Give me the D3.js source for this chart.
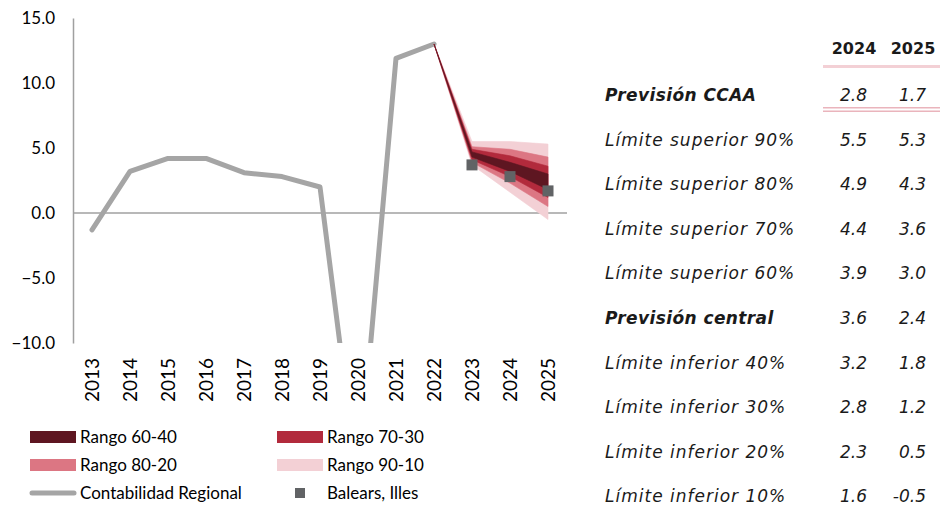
<!DOCTYPE html>
<html lang="es">
<head>
<meta charset="UTF-8">
<title>Previsión Balears</title>
<script src="https://d3js.org/d3.v7.min.js"></script>
<style>
  body { margin: 0; background: #fff; }
  svg { display: block; }
  .lbl { font-family: Lato, "Open Sans", sans-serif; fill: #000; }
  .tbl { font-family: "DejaVu Sans", sans-serif; fill: #1a1a1a; }
</style>
</head>
<body>
<svg id="chart" width="940" height="508"></svg>
<script>
  // years on the x axis
  var years = ["2013", "2014", "2015", "2016", "2017", "2018", "2019", "2020", "2021", "2022", "2023", "2024", "2025"];

  // Contabilidad Regional (2013-2022)
  var regionalYears = ["2013", "2014", "2015", "2016", "2017", "2018", "2019", "2020", "2021", "2022"];
  var regional = [-1.3, 3.2, 4.2, 4.2, 3.1, 2.8, 2.0, -21.0, 11.9, 13.0];

  // Balears, Illes points
  var balearsYears = ["2023", "2024", "2025"];
  var balears = [3.7, 2.8, 1.7];

  // fan chart bounds
  var fanYears = ["2022", "2023", "2024", "2025"];
  var upper90 = [13.0, 5.5, 5.5, 5.3];
  var upper80 = [13.0, 5.1, 4.9, 4.3];
  var upper70 = [13.0, 4.9, 4.4, 3.6];
  var upper60 = [13.0, 4.7, 3.9, 3.0];
  var lower40 = [13.0, 4.3, 3.2, 1.8];
  var lower30 = [13.0, 4.1, 2.8, 1.2];
  var lower20 = [13.0, 3.9, 2.3, 0.5];
  var lower10 = [13.0, 3.7, 1.6, -0.5];

  var yTicks = [-10, -5, 0, 5, 10, 15];

  // table on the right
  var tableHead = ["2024", "2025"];
  var tableLabels = ["Previsión CCAA", "Límite superior 90%", "Límite superior 80%", "Límite superior 70%",
    "Límite superior 60%", "Previsión central", "Límite inferior 40%", "Límite inferior 30%",
    "Límite inferior 20%", "Límite inferior 10%"];
  var table2024 = ["2.8", "5.5", "4.9", "4.4", "3.9", "3.6", "3.2", "2.8", "2.3", "1.6"];
  var table2025 = ["1.7", "5.3", "4.3", "3.6", "3.0", "2.4", "1.8", "1.2", "0.5", "-0.5"];
  var tableBold = [true, false, false, false, false, true, false, false, false, false];

  var svg = d3.select("#chart");

  var x = d3.scalePoint().domain(years).range([92, 548]);
  var y = d3.scaleLinear().domain([-10, 15]).range([343, 18]);

  var plotLeft = 73, plotRight = 567;

  svg.append("defs").append("clipPath").attr("id", "plotclip")
    .append("rect").attr("x", plotLeft).attr("y", y(15)).attr("width", plotRight - plotLeft).attr("height", y(-10) - y(15));

  // y axis
  var yAxis = svg.append("g")
    .attr("transform", "translate(" + plotLeft + ",0)")
    .call(d3.axisLeft(y).tickValues(yTicks).tickSize(0).tickPadding(18).tickFormat(d3.format(".1f")));
  yAxis.select(".domain").attr("stroke", "#a0a0a0").attr("stroke-width", 1.5);
  yAxis.selectAll("text").attr("class", "lbl").style("font-size", "17px").attr("fill", "#000");

  // zero line
  svg.append("line")
    .attr("x1", plotLeft).attr("x2", plotRight)
    .attr("y1", y(0)).attr("y2", y(0))
    .attr("stroke", "#a0a0a0").attr("stroke-width", 1.5);

  // x labels (rotated)
  svg.append("g").selectAll("text")
    .data(years).enter().append("text")
    .attr("class", "lbl")
    .attr("transform", function (d) { return "translate(" + x(d) + ",358) rotate(-90)"; })
    .attr("text-anchor", "end")
    .attr("dy", "0.35em")
    .style("font-size", "19px")
    .text(function (d) { return d; });

  var plot = svg.append("g").attr("clip-path", "url(#plotclip)");

  // regional line
  var line = d3.line()
    .x(function (d, i) { return x(regionalYears[i]); })
    .y(function (d) { return y(d); });
  plot.append("path")
    .datum(regional)
    .attr("d", line)
    .attr("fill", "none")
    .attr("stroke", "#a5a5a5")
    .attr("stroke-width", 5)
    .attr("stroke-linecap", "round")
    .attr("stroke-linejoin", "round");

  // fan bands, widest first
  var bands = [
    { hi: upper90, lo: lower10, color: "#f3d0d5" },
    { hi: upper80, lo: lower20, color: "#dc7683" },
    { hi: upper70, lo: lower30, color: "#b22a3c" },
    { hi: upper60, lo: lower40, color: "#5e1621" }
  ];
  bands.forEach(function (b) {
    var area = d3.area()
      .x(function (d, i) { return x(fanYears[i]); })
      .y0(function (d, i) { return y(b.lo[i]); })
      .y1(function (d, i) { return y(b.hi[i]); });
    plot.append("path")
      .datum(fanYears)
      .attr("d", area)
      .attr("fill", b.color)
      .attr("stroke", b.color)
      .attr("stroke-width", 0.6);
  });

  // Balears squares
  var sq = 11;
  plot.selectAll("rect.pt")
    .data(balears).enter().append("rect")
    .attr("class", "pt")
    .attr("x", function (d, i) { return x(balearsYears[i]) - sq / 2; })
    .attr("y", function (d) { return y(d) - sq / 2; })
    .attr("width", sq).attr("height", sq)
    .attr("fill", "#616365");

  // legend
  var legendItems = [
    { label: "Rango 60-40", color: "#5e1621", type: "box", col: 0, row: 0 },
    { label: "Rango 70-30", color: "#b22a3c", type: "box", col: 1, row: 0 },
    { label: "Rango 80-20", color: "#dc7683", type: "box", col: 0, row: 1 },
    { label: "Rango 90-10", color: "#f3d0d5", type: "box", col: 1, row: 1 },
    { label: "Contabilidad Regional", color: "#a5a5a5", type: "line", col: 0, row: 2 },
    { label: "Balears, Illes", color: "#616365", type: "square", col: 1, row: 2 }
  ];
  var legend = svg.append("g");
  legendItems.forEach(function (it) {
    var lx = it.col === 0 ? 30 : 277;
    var ly = 437 + it.row * 28;
    if (it.type === "box") {
      legend.append("rect").attr("x", lx).attr("y", ly - 6).attr("width", 46).attr("height", 12).attr("fill", it.color);
    } else if (it.type === "line") {
      legend.append("line").attr("x1", lx + 2).attr("x2", lx + 44).attr("y1", ly).attr("y2", ly)
        .attr("stroke", it.color).attr("stroke-width", 5).attr("stroke-linecap", "round");
    } else {
      legend.append("rect").attr("x", lx + 18).attr("y", ly - 5).attr("width", 10).attr("height", 10).attr("fill", it.color);
    }
    legend.append("text").attr("class", "lbl")
      .attr("x", lx + 50).attr("y", ly).attr("dy", "0.35em")
      .style("font-size", "17px")
      .text(it.label);
  });

  // table
  var tbl = svg.append("g");
  var col1 = 867, col2 = 926;
  tbl.selectAll("text.head")
    .data(tableHead).enter().append("text")
    .attr("class", "tbl head")
    .attr("x", function (d, i) { return i === 0 ? 854 : 913; })
    .attr("y", 48).attr("dy", "0.35em")
    .attr("text-anchor", "middle")
    .style("font-size", "16px").style("font-weight", "bold")
    .text(function (d) { return d; });

  tbl.append("rect").attr("x", 823).attr("y", 65).attr("width", 117).attr("height", 3).attr("fill", "#f3d0d5");
  tbl.append("rect").attr("x", 823).attr("y", 107).attr("width", 117).attr("height", 1.5).attr("fill", "#eab4bc");
  tbl.append("rect").attr("x", 823).attr("y", 110.5).attr("width", 117).attr("height", 1.5).attr("fill", "#eab4bc");

  tableLabels.forEach(function (lab, i) {
    var ry = 95 + i * 44.6;
    var bold = tableBold[i];
    tbl.append("text").attr("class", "tbl")
      .attr("x", 605).attr("y", ry).attr("dy", "0.35em")
      .style("font-size", "17px").style("font-style", "italic")
      .style("font-weight", bold ? "bold" : "normal")
      .style("letter-spacing", bold ? "0.4px" : "1px")
      .text(lab);
    tbl.append("text").attr("class", "tbl")
      .attr("x", col1).attr("y", ry).attr("dy", "0.35em")
      .attr("text-anchor", "end")
      .style("font-size", "17px").style("font-style", "italic")
      .text(table2024[i]);
    tbl.append("text").attr("class", "tbl")
      .attr("x", col2).attr("y", ry).attr("dy", "0.35em")
      .attr("text-anchor", "end")
      .style("font-size", "17px").style("font-style", "italic")
      .text(table2025[i]);
  });
</script>
</body>
</html>
